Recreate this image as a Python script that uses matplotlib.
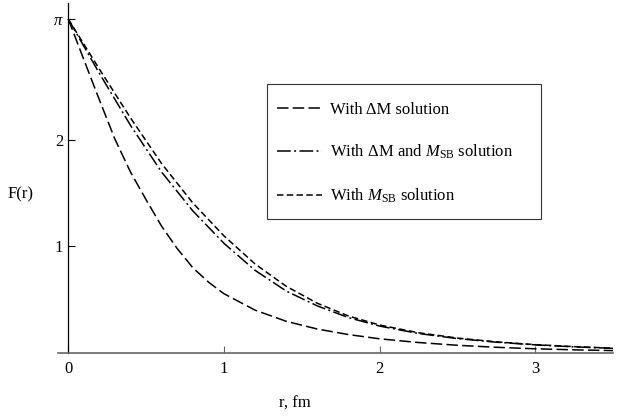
import numpy as np
import matplotlib
matplotlib.use('Agg')
import matplotlib.pyplot as plt
from matplotlib.patches import Rectangle

plt.rcParams['font.family'] = ['Liberation Serif', 'DejaVu Serif']
plt.rcParams['mathtext.fontset'] = 'custom'
plt.rcParams['mathtext.rm'] = 'Liberation Serif'
plt.rcParams['mathtext.it'] = 'Liberation Serif:italic'

# profile F(r)
r_dm = [0, 0.1, 0.2, 0.3, 0.4, 0.5, 0.6, 0.7, 0.8, 0.9, 1.0, 1.2, 1.4, 1.6, 1.8,
        2.0, 2.25, 2.5, 2.75, 3.0, 3.25, 3.5]
f_dm = [np.pi, 2.76, 2.38, 2.01, 1.70, 1.44, 1.19, 0.98, 0.80, 0.665, 0.555, 0.40,
        0.295, 0.222, 0.17, 0.13, 0.095, 0.069, 0.05, 0.036, 0.026, 0.019]

r_both = [0, 0.2, 0.4, 0.6, 0.8, 1.0, 1.2, 1.4, 1.6, 1.8, 2.0, 2.25, 2.5, 2.75,
          3.0, 3.25, 3.5]
f_both = [np.pi, 2.63, 2.14, 1.70, 1.335, 1.03, 0.775, 0.58, 0.44, 0.33, 0.25,
          0.18, 0.132, 0.098, 0.073, 0.054, 0.04]

r_msb = [0, 0.2, 0.4, 0.6, 0.8, 1.0, 1.2, 1.4, 1.6, 1.8, 2.0, 2.25, 2.5, 2.75,
         3.0, 3.25, 3.5]
f_msb = [np.pi, 2.67, 2.21, 1.78, 1.41, 1.10, 0.835, 0.625, 0.465, 0.345, 0.26,
         0.187, 0.137, 0.101, 0.075, 0.056, 0.042]

labels = ['With ΔM solution',
          r'With ΔM and $M_{\rm SB}$ solution',
          r'With $M_{\rm SB}$ solution']

W, H = 622, 416
fs = 12
fig = plt.figure(figsize=(W / 100, H / 100), dpi=100)
ax = fig.add_axes([58.3 / W, 63.4 / H, (613 - 58.3) / W, (352.6 - 3.3) / H])

l1, = ax.plot(r_dm, f_dm, color='k', lw=1.1, ls=(0, (7.5, 2.8)))
l2, = ax.plot(r_both, f_both, color='k', lw=1.1, ls=(0, (9, 2.2, 1.3, 2.2)))
l3, = ax.plot(r_msb, f_msb, color='k', lw=1.1, ls=(0, (4.2, 2.2)))

ax.set_xlim(-0.064, 3.5)
ax.set_ylim(0, 3.29)

for s in ['top', 'right']:
    ax.spines[s].set_visible(False)
ax.spines['left'].set_position(('data', 0))
ax.spines['left'].set_linewidth(0.9)
ax.spines['bottom'].set_color('#666666')
ax.spines['bottom'].set_linewidth(1.2)

ax.set_xticks([0, 1, 2, 3])
ax.set_yticks([1, 2, np.pi])
ax.set_yticklabels(['1', '2', r'$\pi$'])
ax.tick_params(axis='x', direction='in', length=4.8, width=0.8, color='#666666',
               pad=6, labelsize=fs)
ax.tick_params(axis='y', direction='in', length=4.8, width=0.8, pad=3.6,
               labelsize=fs)

fig.text(21 / W, 1 - 194 / H, 'F(r)', fontsize=fs, ha='center', va='center')
fig.text(295 / W, 1 - 404 / H, 'r, fm', fontsize=fs, ha='center', va='center')

# legend box
fig.patches.append(Rectangle((266.7 / W, 1 - 219 / H), 274 / W, 135 / H,
                             transform=fig.transFigure, fill=False,
                             edgecolor='#333333', lw=0.8))
ax.legend([l1, l2, l3], labels, frameon=False, loc='upper left',
          bbox_to_anchor=(277 / W, 1 - 102 / H), bbox_transform=fig.transFigure,
          borderpad=0, borderaxespad=0, handlelength=2.7, handletextpad=0.5,
          labelspacing=1.5, fontsize=fs)

fig.savefig('out.png', dpi=100)
